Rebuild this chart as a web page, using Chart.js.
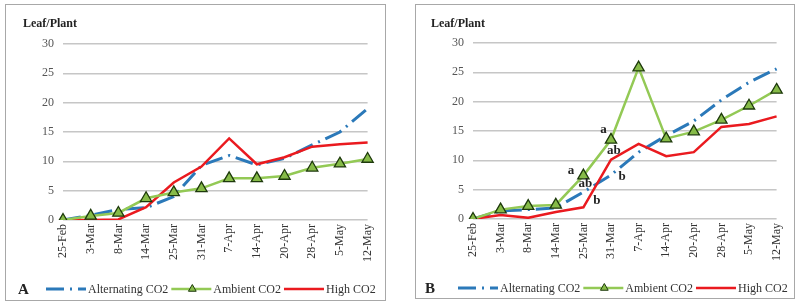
<!DOCTYPE html>
<html>
<head>
<meta charset="utf-8">
<script src="https://cdn.jsdelivr.net/npm/chart.js@4/dist/chart.umd.min.js"></script>
<style>
    body { margin: 0; background: #fff; width: 800px; height: 307px; position: relative; overflow: hidden; }
    canvas { position: absolute; }
    .box { position: absolute; border: 1.5px solid #a8a8a8; box-sizing: border-box; pointer-events: none; }
</style>
</head>
<body>
<canvas id="chartA" width="381" height="297" style="left:5px;top:4px"></canvas>
<div class="box" style="left:5px;top:4px;width:381px;height:297px"></div>
<canvas id="chartB" width="380" height="295" style="left:415px;top:4px"></canvas>
<div class="box" style="left:415px;top:4px;width:380px;height:295px"></div>
<script>
// categories
var dates = ['25-Feb', '3-Mar', '8-Mar', '14-Mar', '25-Mar', '31-Mar', '7-Apr', '14-Apr', '20-Apr', '28-Apr', '5-May', '12-May'];
var seriesNames = ['Alternating CO2', 'Ambient CO2', 'High CO2'];
var yTitle = 'Leaf/Plant';

// panel A
var altA = [0, 0.8, 1.8, 2.1, 4.0, 9.3, 11.0, 9.4, 10.5, 12.8, 15.0, 19.0];
var ambA = [0, 0.7, 1.2, 3.7, 4.7, 5.4, 7.1, 7.1, 7.5, 8.9, 9.6, 10.4];
var highA = [0, 0, 0.1, 2.2, 6.4, 9.1, 13.9, 9.5, 10.7, 12.5, 12.9, 13.2];

// panel B
var altB = [0, 1.4, 1.6, 1.9, 4.6, 7.5, 11.4, 14.2, 16.7, 20.3, 23.3, 25.6];
var ambB = [0, 1.6, 2.2, 2.4, 7.4, 13.5, 25.8, 13.7, 14.9, 16.9, 19.3, 22.0];
var highB = [0, 0.7, 0.2, 1.2, 2.0, 10.1, 12.8, 10.7, 11.4, 15.7, 16.2, 17.5];

// significance letters in panel B (x as category index, y as value)
var marksB = ['a', 'ab', 'a', 'ab', 'b', 'b'];
var marksBx = [4.73, 5.1, 3.55, 4.07, 5.4, 4.49];
var marksBy = [15.2, 11.6, 8.3, 6.0, 7.3, 3.1];

var serif = "'Liberation Serif', 'DejaVu Serif', serif";

function makeDatasets(alt, amb, high) {
    return [{
        label: seriesNames[0],
        data: alt,
        borderColor: '#2b79b9',
        borderWidth: 3,
        borderDash: [18, 6, 2, 6],
        pointRadius: 0,
        order: 2
    }, {
        label: seriesNames[1],
        data: amb,
        borderColor: '#93c955',
        borderWidth: 2.5,
        pointStyle: 'triangle',
        pointRadius: 6.5,
        pointBackgroundColor: '#86bb48',
        pointBorderColor: '#1e3a0c',
        pointBorderWidth: 1.3,
        order: 0
    }, {
        label: seriesNames[2],
        data: high,
        borderColor: '#ea1a1f',
        borderWidth: 2.5,
        pointRadius: 0,
        order: 1
    }];
}

// title, letter and legend drawn at the bottom of each panel
var panelText = {
    id: 'panelText',
    afterDatasetsDraw: function (chart, args, opts) {
        var ctx = chart.ctx;
        ctx.save();
        ctx.fillStyle = '#222';
        ctx.textBaseline = 'middle';
        if (opts.marks) {
            ctx.font = 'bold 13px ' + serif;
            ctx.textAlign = 'center';
            var xs = chart.scales.x, ys = chart.scales.y;
            for (var i = 0; i < opts.marks.length; i++) {
                ctx.fillText(opts.marks[i], xs.getPixelForValue(opts.marksX[i]), ys.getPixelForValue(opts.marksY[i]));
            }
        }
        ctx.restore();
    },
    afterDraw: function (chart, args, opts) {
        var ctx = chart.ctx;
        var y = opts.legendY;
        ctx.save();
        ctx.fillStyle = '#222';
        ctx.textBaseline = 'middle';
        ctx.textAlign = 'left';
        ctx.font = 'bold 12px ' + serif;
        ctx.fillText(yTitle, opts.titleX, 20);
        ctx.font = 'bold 15px ' + serif;
        ctx.fillText(opts.letter, opts.letterX, y + 1);

        ctx.font = '12px ' + serif;
        var x = opts.legendX;
        chart.data.datasets.forEach(function (ds) {
            ctx.beginPath();
            ctx.setLineDash(ds.borderDash || []);
            ctx.strokeStyle = ds.borderColor;
            ctx.lineWidth = ds.borderWidth;
            ctx.moveTo(x, y);
            ctx.lineTo(x + 40, y);
            ctx.stroke();
            ctx.setLineDash([]);
            if (ds.pointRadius > 0) {
                var r = 4.5, cx = x + 21;
                ctx.beginPath();
                ctx.moveTo(cx, y - r);
                ctx.lineTo(cx + r * 0.866, y + r * 0.5);
                ctx.lineTo(cx - r * 0.866, y + r * 0.5);
                ctx.closePath();
                ctx.fillStyle = ds.pointBackgroundColor;
                ctx.fill();
                ctx.strokeStyle = ds.pointBorderColor;
                ctx.lineWidth = 1;
                ctx.stroke();
            }
            ctx.fillStyle = '#333';
            ctx.fillText(ds.label, x + 42, y + 1);
            x += 42 + ctx.measureText(ds.label).width + 3;
        });
        ctx.restore();
    }
};

function makeChart(id, alt, amb, high, pad, textOpts) {
    var ctx = document.getElementById(id).getContext('2d');
    return new Chart(ctx, {
        type: 'line',
        data: {
            labels: dates,
            datasets: makeDatasets(alt, amb, high)
        },
        options: {
            responsive: false,
            animation: false,
            layout: { padding: pad },
            elements: { line: { tension: 0 } },
            plugins: {
                legend: { display: false },
                tooltip: { enabled: false },
                panelText: textOpts
            },
            scales: {
                x: {
                    grid: { display: false, drawTicks: false },
                    border: { display: false },
                    ticks: {
                        autoSkip: false,
                        maxRotation: 90,
                        minRotation: 90,
                        padding: 4,
                        color: '#333',
                        font: { family: serif, size: 12 }
                    },
                    afterFit: function (scale) { scale.height = 50; }
                },
                y: {
                    min: 0,
                    max: 30,
                    grid: { color: '#c6c6c6', lineWidth: 1.5, drawTicks: false },
                    border: { display: false },
                    ticks: {
                        stepSize: 5,
                        padding: 9,
                        color: '#555',
                        font: { family: serif, size: 12 }
                    },
                    afterFit: function (scale) { scale.width = 58; }
                }
            }
        },
        plugins: [panelText]
    });
}

makeChart('chartA', altA, ambA, highA,
    { left: 0, top: 40, right: 10, bottom: 31 },
    { letter: 'A', letterX: 13, legendX: 41, legendY: 285, titleX: 18 });

makeChart('chartB', altB, ambB, highB,
    { left: 0, top: 39, right: 9, bottom: 30 },
    { letter: 'B', letterX: 10, legendX: 43, legendY: 284, titleX: 16,
      marks: marksB, marksX: marksBx, marksY: marksBy });
</script>
</body>
</html>
